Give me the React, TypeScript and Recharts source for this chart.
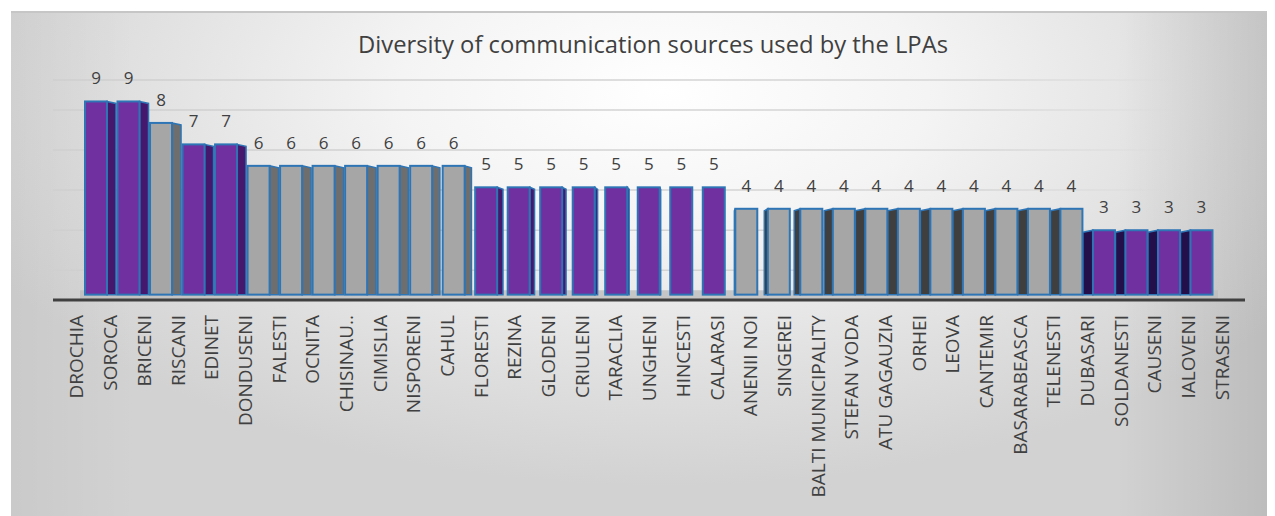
import { BarChart, Bar, XAxis, YAxis, CartesianGrid, LabelList, ReferenceArea } from "recharts";

const districts = [
  "DROCHIA", "SOROCA", "BRICENI", "RISCANI", "EDINET", "DONDUSENI", "FALESTI", "OCNITA",
  "CHISINAU..", "CIMISLIA", "NISPORENI", "CAHUL", "FLORESTI", "REZINA", "GLODENI", "CRIULENI",
  "TARACLIA", "UNGHENI", "HINCESTI", "CALARASI", "ANENII NOI", "SINGEREI", "BALTI MUNICIPALITY",
  "STEFAN VODA", "ATU GAGAUZIA", "ORHEI", "LEOVA", "CANTEMIR", "BASARABEASCA", "TELENESTI",
  "DUBASARI", "SOLDANESTI", "CAUSENI", "IALOVENI", "STRASENI",
];
const sources = [
  9, 9, 8, 7, 7, 6, 6, 6, 6, 6, 6, 6, 5, 5, 5, 5, 5, 5, 5, 5,
  4, 4, 4, 4, 4, 4, 4, 4, 4, 4, 4, 3, 3, 3, 3,
];
const wallTicks = [1, 2, 3, 4, 5, 6, 7, 8, 9];

const data = districts.map((name, i) => ({ name, value: sources[i] }));

const TEXT = "#404040";
const EDGE = "#2e75b6";
const FONT = "'Open Sans', sans-serif";

// fake 3D column: front face plus a side face whose width depends on where it sits
function Bar3D(props: any) {
  const { x, y, width, height, payload } = props;
  if (height <= 0) return null;
  const odd = payload.value % 2 === 1;
  const front = odd ? "#7030a0" : "#a6a6a6";
  const cx = x + width / 2;
  let s = 0;
  let right = true;
  if (cx < 669) {
    s = Math.min(9, (669 - cx) * 0.03);
  } else if (cx > 724) {
    s = Math.min(10, (cx - 724) * 0.08);
    right = false;
  }
  const side = right ? (odd ? "#45186e" : "#6e6e6e") : odd ? "#23104a" : "#3f3f3f";
  const b = y + height;
  const pts = right
    ? `${x + width},${y} ${x + width + s},${y + 2} ${x + width + s},${b} ${x + width},${b}`
    : `${x - s},${y + 2} ${x},${y} ${x},${b} ${x - s},${b}`;
  return (
    <g>
      {s > 0.5 && <polygon points={pts} fill={side} stroke={EDGE} strokeWidth={1.5} />}
      <rect x={x} y={y} width={width} height={height} fill={front} stroke={EDGE} strokeWidth={2} />
    </g>
  );
}

function ValueLabel(props: any) {
  const { x, y, width, value } = props;
  return (
    <text x={x + width / 2} y={y - 17} textAnchor="middle" fontSize={17} fill={TEXT} fontFamily={FONT}>
      {value}
    </text>
  );
}

function DistrictTick(props: any) {
  const { x, y, payload } = props;
  const ty = y + 13;
  return (
    <text
      x={x}
      y={ty}
      dy="0.35em"
      transform={`rotate(-90, ${x}, ${ty})`}
      textAnchor="end"
      fontSize={19}
      fill={TEXT}
      fontFamily={FONT}
    >
      {payload.value}
    </text>
  );
}

export default function App() {
  return (
    <div
      style={{
        position: "absolute",
        left: 11,
        top: 11,
        width: 1256,
        height: 505,
        background:
          "linear-gradient(to right, rgba(0,0,0,0.04) 0%, rgba(0,0,0,0) 10%, rgba(0,0,0,0) 88%, rgba(0,0,0,0.1) 100%), radial-gradient(ellipse 60% 78% at 52% 16%, #ffffff 0%, #f4f4f4 35%, #dedede 75%, #d2d2d2 100%)",
        boxShadow: "inset 0 2px 0 #c6c6c6",
      }}
    >
      <svg width={1256} height={60} style={{ position: "absolute", left: 0, top: 0 }}>
        <text x={642} y={42} textAnchor="middle" fontSize={24} fill={TEXT} fontFamily={FONT} textLength={590} lengthAdjust="spacingAndGlyphs">
          Diversity of communication sources used by the LPAs
        </text>
      </svg>
      <BarChart width={1256} height={505} data={data} margin={{ top: 69, right: 22, bottom: 16, left: 42 }}>
        <defs>
          <linearGradient id="gridFade" gradientUnits="userSpaceOnUse" x1={42} y1={0} x2={1234} y2={0}>
            <stop offset="0%" stopColor="#cfcfcf" stopOpacity={1} />
            <stop offset="78%" stopColor="#d6d6d6" stopOpacity={1} />
            <stop offset="96%" stopColor="#d6d6d6" stopOpacity={0} />
          </linearGradient>
        </defs>
        <XAxis
          xAxisId="labels"
          dataKey="name"
          interval={0}
          height={200}
          padding={{ left: 7, right: 6 }}
          axisLine={{ stroke: "#404040", strokeWidth: 3 }}
          tickLine={false}
          tickSize={0}
          tick={<DistrictTick />}
        />
        <XAxis xAxisId="bars" dataKey="name" hide height={0} padding={{ left: 27, right: 27 }} />
        <YAxis yAxisId="main" domain={[-0.25, 10]} hide width={0} />
        <YAxis
          yAxisId="wall"
          type="number"
          domain={[-0.48, 10.49]}
          ticks={wallTicks}
          allowDataOverflow
          hide
          width={0}
        />
        <CartesianGrid xAxisId="bars" yAxisId="wall" vertical={false} stroke="url(#gridFade)" strokeWidth={1.5} />
        {/* invisible series so the back-wall axis gets a scale */}
        <Bar xAxisId="labels" yAxisId="wall" dataKey="value" fill="none" barSize={1} isAnimationActive={false} />
        <ReferenceArea xAxisId="bars" yAxisId="main" y1={-0.25} y2={0.2} fill="#bdbdbd" fillOpacity={0.8} stroke="none" />
        <Bar xAxisId="bars" yAxisId="main" dataKey="value" barSize={22} shape={<Bar3D />} isAnimationActive={false}>
          <LabelList dataKey="value" content={<ValueLabel />} />
        </Bar>
      </BarChart>
    </div>
  );
}
